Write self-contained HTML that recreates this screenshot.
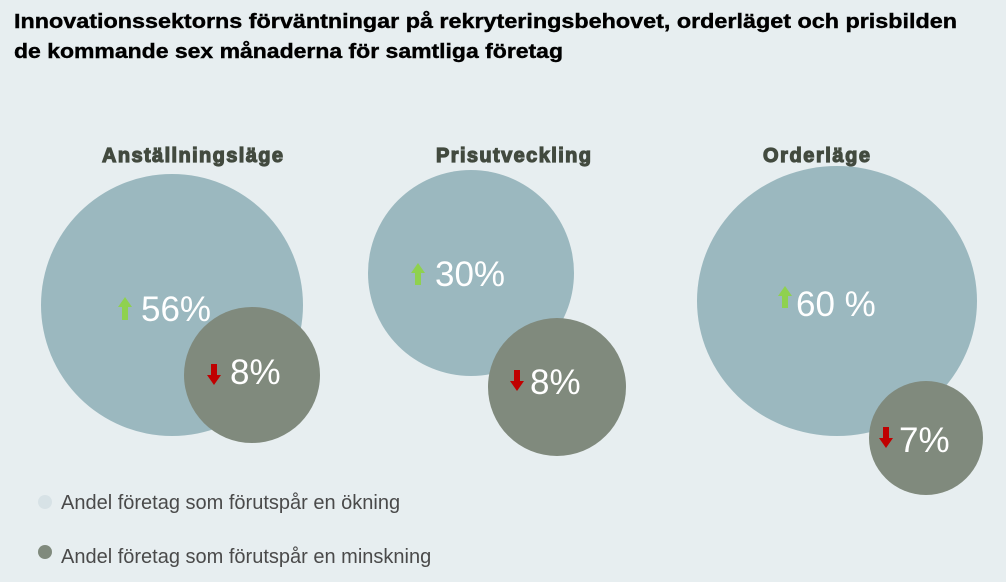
<!DOCTYPE html>
<html><head><meta charset="utf-8"><style>
html,body{margin:0;padding:0;width:1006px;height:582px;background:#e7eef0;overflow:hidden;font-family:"Liberation Sans",sans-serif}
</style></head><body>
<svg width="1006" height="582" xmlns="http://www.w3.org/2000/svg" font-family="Liberation Sans, sans-serif">
<rect width="1006" height="582" fill="#e7eef0"/>
<text x="14" y="28" font-size="20" font-weight="bold" fill="#000" stroke="#000" stroke-width="0.4" textLength="943" lengthAdjust="spacingAndGlyphs">Innovationssektorns förväntningar på rekryteringsbehovet, orderläget och prisbilden</text>
<text x="14" y="58" font-size="20" font-weight="bold" fill="#000" stroke="#000" stroke-width="0.4" textLength="549" lengthAdjust="spacingAndGlyphs">de kommande sex månaderna för samtliga företag</text>
<g font-size="20" font-weight="bold" fill="#424a3f" stroke="#424a3f" stroke-width="1.2" lengthAdjust="spacingAndGlyphs">
<text x="102" y="162" textLength="181">Anställningsläge</text>
<text x="436" y="162" textLength="155">Prisutveckling</text>
<text x="763" y="162" textLength="107">Orderläge</text>
</g>
<circle cx="172" cy="305" r="131" fill="#9bb8bf"/>
<circle cx="252" cy="375" r="68" fill="#808a7d"/>
<circle cx="471" cy="273" r="103" fill="#9bb8bf"/>
<circle cx="557" cy="387" r="69" fill="#808a7d"/>
<ellipse cx="837" cy="301" rx="140" ry="135" fill="#9bb8bf"/>
<circle cx="926" cy="438" r="57" fill="#808a7d"/>
<g fill="#8fd14f">
<polygon points="125,297 132,307 128,307 128,320 122,320 122,307 118,307"/>
<polygon points="418,263 425,273 421,273 421,285 415,285 415,273 411,273"/>
<polygon points="785,286 792,296 788,296 788,308 782,308 782,296 778,296"/>
</g>
<g fill="#c00000">
<polygon points="214,385 221,375 217,375 217,364 211,364 211,375 207,375"/>
<polygon points="517,391 524,381 520,381 520,370 514,370 514,381 510,381"/>
<polygon points="886,448 893,438 889,438 889,427 883,427 883,438 879,438"/>
</g>
<g font-size="35" fill="#fff">
<text x="141" y="321">56%</text>
<text x="230" y="384">8%</text>
<text x="435" y="286">30%</text>
<text x="530" y="394">8%</text>
<text x="796" y="316">60 %</text>
<text x="899" y="452">7%</text>
</g>
<circle cx="45" cy="502" r="7" fill="#d7e2e6"/>
<circle cx="45" cy="552" r="7" fill="#808a7d"/>
<g font-size="20" fill="#4a4a4a">
<text x="61" y="509">Andel företag som förutspår en ökning</text>
<text x="61" y="563">Andel företag som förutspår en minskning</text>
</g>
</svg>
</body></html>
